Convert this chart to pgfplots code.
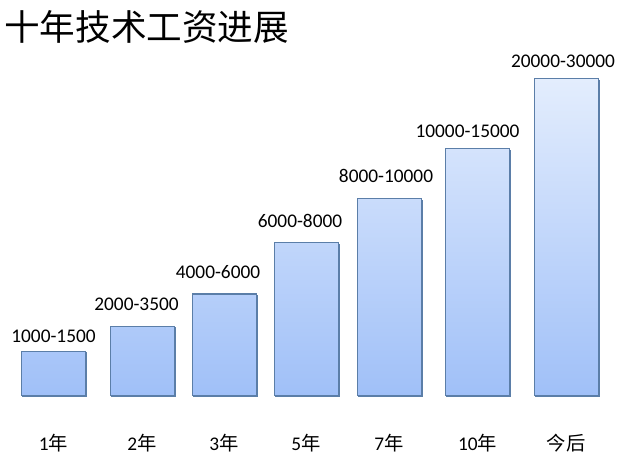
\documentclass[border=0pt]{standalone}
\usepackage{pgfplots}
\pgfplotsset{compat=1.18}
\usepackage{pgfplotstable}
\usepackage{fontspec}
\setmainfont{Carlito}
\newfontfamily\cjk{Noto Sans CJK SC}
\definecolor{barline}{HTML}{5B7EA8}
\definecolor{bartop}{HTML}{E3EDFD}
\definecolor{barbot}{HTML}{A0C0F8}
\pgfplotstableread{
x h lx ly label
53.5 44 53.5 53 1000-1500
142 69 136.5 84 2000-3500
224 101 218 117 4000-6000
306 152 300 167 6000-8000
389 196 386 212 8000-10000
477.5 246 467.5 257 10000-15000
566 316 563 327 20000-30000
}\bardata
\begin{document}
\begin{tikzpicture}
\begin{axis}[
  name=ax,
  width=476.25pt, height=351pt, scale only axis,
  xmin=0, xmax=635, ymin=-73, ymax=395,
  axis line style={draw=none},
  major tick length=0pt,
  ytick=\empty,
  xtick={53.5,142,224,306,389,477.5,566},
  xticklabels={{1\cjk 年},{2\cjk 年},{3\cjk 年},{5\cjk 年},{7\cjk 年},{10\cjk 年},{\cjk 今后}},
  xticklabel style={anchor=base, yshift=13.5pt, font=\fontsize{14.5}{16}\selectfont},
  clip=false,
]
\addplot[ybar, bar width=64, draw=barline, line width=0.75pt, top color=bartop, bottom color=barbot,
  preaction={fill=black!15, transform canvas={xshift=1pt, yshift=-1pt}}]
  table[x=x, y=h] {\bardata};
\addplot[only marks, mark=none, nodes near coords, point meta=explicit symbolic,
  every node near coord/.style={anchor=base, inner sep=0pt, font=\fontsize{14.5}{16}\selectfont, text=black}]
  table[x=lx, y=ly, meta=label] {\bardata};
\node[anchor=west, inner sep=0pt, font=\cjk\fontsize{26.7}{30}\selectfont] at (axis cs:4,368) {十年技术工资进展};
\end{axis}
\pgfresetboundingbox
\path (ax.south west) rectangle (ax.north east);
\end{tikzpicture}
\end{document}
